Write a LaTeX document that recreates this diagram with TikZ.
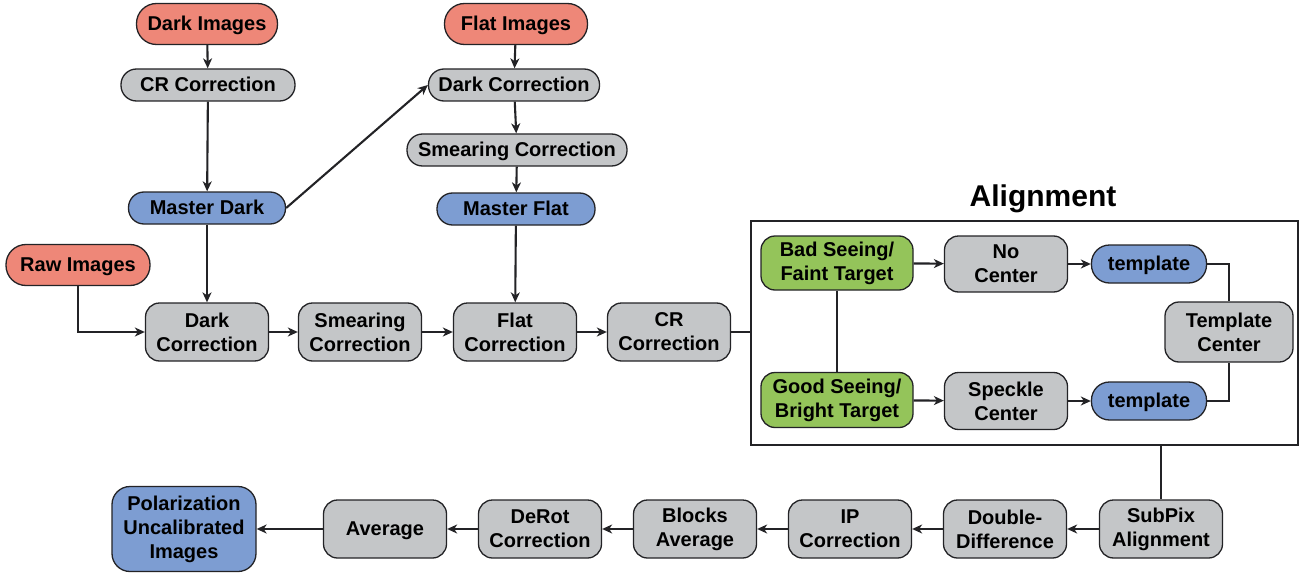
\documentclass[tikz,border=0pt]{standalone}
\usepackage{fontspec}
\setmainfont{Liberation Sans}
\usetikzlibrary{arrows.meta,calc}
\definecolor{cred}{RGB}{238,135,120}
\definecolor{cgray}{RGB}{196,198,200}
\definecolor{cblue}{RGB}{125,157,210}
\definecolor{cgreen}{RGB}{148,196,90}
\definecolor{cline}{RGB}{35,35,38}
\tikzset{
  base/.style={draw=cline, line width=1.3pt, align=center, inner sep=0pt,
    font=\bfseries\fontsize{20}{24}\selectfont},
  one/.style={text height=17pt, text depth=4pt},
  pill/.style={base, one, rounded corners=15.5pt, minimum height=32pt},
  big/.style={base, one, rounded corners=20pt, minimum height=41pt},
  box2/.style={base, rounded corners=14pt, minimum width=123pt, minimum height=58pt},
  arr/.style={-{Stealth[length=10pt,width=9pt,inset=3pt]}, line width=2.1pt, draw=cline},
  ln/.style={line width=2.1pt, draw=cline}
}
\begin{document}
\begin{tikzpicture}[x=1pt,y=-1pt]
\useasboundingbox (0,0) rectangle (1306,575);
% top-left chain
\node[big,fill=cred,minimum width=141pt] (di) at (207,24) {Dark Images};
\node[pill,fill=cgray,minimum width=174pt] (crt) at (208,85) {CR Correction};
\node[pill,fill=cblue,minimum width=157pt] (md) at (207,208) {Master Dark};
% flat chain
\node[big,fill=cred,minimum width=143pt] (fi) at (516,24) {Flat Images};
\node[pill,fill=cgray,minimum width=171pt] (dct) at (514,85) {Dark Correction};
\node[pill,fill=cgray,minimum width=220pt] (sct) at (517,150) {Smearing Correction};
\node[pill,fill=cblue,minimum width=158pt] (mf) at (516,209) {Master Flat};
% raw
\node[big,fill=cred,minimum width=144pt] (raw) at (78,265) {Raw Images};
% main row
\node[box2,fill=cgray] (dc) at (207,332) {Dark\\Correction};
\node[box2,fill=cgray] (sc) at (360,332) {Smearing\\Correction};
\node[box2,fill=cgray] (fc) at (515,332) {Flat\\Correction};
\node[box2,fill=cgray] (cr) at (669,332) {CR\\Correction};
% alignment
\node[draw=cline, line width=2pt, minimum width=547pt, minimum height=224pt, inner sep=0pt] (al) at (1024.5,333) {};
\node[font=\bfseries\fontsize{30}{34}\selectfont, inner sep=0pt] (alt) at (1043,199) {Alignment};
\node[box2,fill=cgreen,minimum width=152pt,minimum height=54pt] (bad) at (837,263) {Bad Seeing/\\Faint Target};
\node[box2,fill=cgray,minimum height=56pt] (nc) at (1006,264) {No\\Center};
\node[base,one,fill=cblue,rounded corners=18pt,minimum width=115pt,minimum height=38pt] (t1) at (1149,264) {template};
\node[box2,fill=cgray,minimum width=128pt,minimum height=60pt] (tc) at (1229,332) {Template\\Center};
\node[box2,fill=cgreen,minimum width=152pt,minimum height=55pt] (good) at (837,400) {Good Seeing/\\Bright Target};
\node[box2,fill=cgray,minimum height=57pt] (spc) at (1006,401) {Speckle\\Center};
\node[base,one,fill=cblue,rounded corners=18pt,minimum width=115pt,minimum height=38pt] (t2) at (1149,401) {template};
% bottom row
\node[box2,fill=cgray] (sp) at (1161,529) {SubPix\\Alignment};
\node[box2,fill=cgray] (dd) at (1005,529) {Double-\\Difference};
\node[box2,fill=cgray] (ip) at (850,529) {IP\\Correction};
\node[box2,fill=cgray] (ba) at (695,529) {Blocks\\Average};
\node[box2,fill=cgray] (dr) at (540,529) {DeRot\\Correction};
\node[box2,one,fill=cgray] (av) at (385,529) {Average};
\node[box2,fill=cblue,rounded corners=18pt,minimum width=144pt,minimum height=85pt] (pu) at (184,529) {Polarization\\Uncalibrated\\Images};
% connectors
\draw[arr] (di) -- (crt);
\draw[arr] (crt) -- (md);
\draw[arr] (md.east) -- (dct.west);
\draw[arr] (md) -- (dc);
\draw[arr] (fi) -- (dct);
\draw[arr] (dct) -- (sct);
\draw[arr] (sct) -- (mf);
\draw[arr] (mf) -- (fc);
\draw[arr] (raw.south) |- (dc.west);
\draw[arr] (dc) -- (sc);
\draw[arr] (sc) -- (fc);
\draw[arr] (fc) -- (cr);
\draw[ln] (cr.east) -- (cr.east -| al.west);
\draw[arr] (bad) -- (nc);
\draw[arr] (nc) -- (t1);
\draw[arr] (good) -- (spc);
\draw[arr] (spc) -- (t2);
\draw[ln] (bad) -- (good);
\draw[ln] (t1.east) -| (tc.north);
\draw[ln] (t2.east) -| (tc.south);
\draw[ln] (al.south -| sp.north) -- (sp.north);
\draw[arr] (sp) -- (dd);
\draw[arr] (dd) -- (ip);
\draw[arr] (ip) -- (ba);
\draw[arr] (ba) -- (dr);
\draw[arr] (dr) -- (av);
\draw[arr] (av) -- (pu);
\end{tikzpicture}
\end{document}
